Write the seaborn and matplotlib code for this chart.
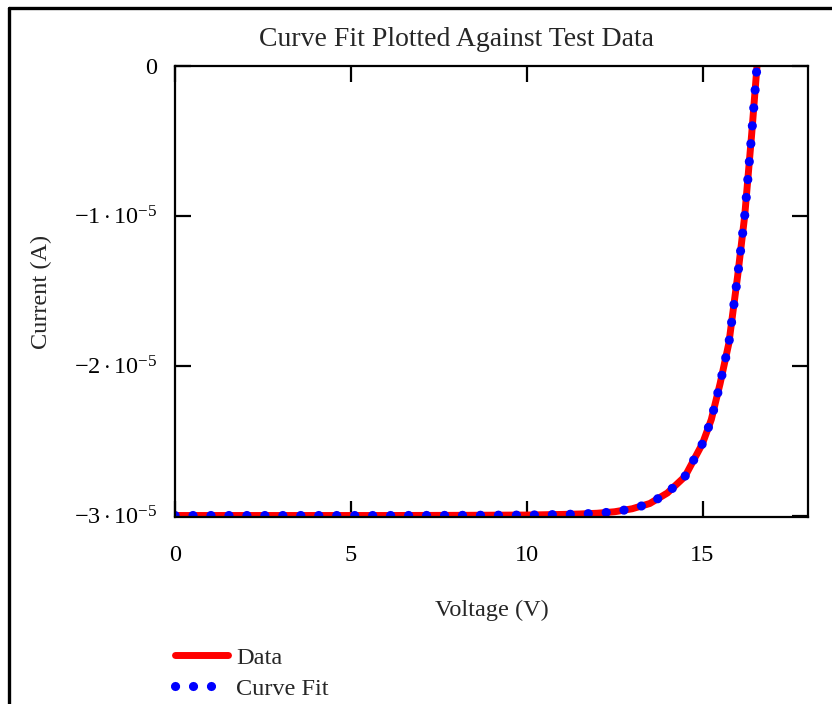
import matplotlib
matplotlib.use("Agg")
import pandas as pd
import seaborn as sns
import matplotlib.pyplot as plt
from matplotlib.lines import Line2D

# =========================================
# 1. DATA
# =========================================
voltage = [0, 2, 4, 6, 8, 10, 11, 11.5, 12, 12.5, 13, 13.5, 14, 14.5,
           15, 15.25, 15.5, 15.75, 16, 16.2, 16.4, 16.55]
# current in units of 1e-5 A
data_current = [-3.0, -3.0, -3.0, -3.0, -2.999, -2.997, -2.993, -2.99, -2.985,
                -2.975, -2.955, -2.92, -2.85, -2.74, -2.52, -2.36, -2.12,
                -1.85, -1.40, -1.00, -0.45, 0.0]
fit_current = [-3.0, -3.0, -3.0, -3.0, -2.999, -2.997, -2.993, -2.99, -2.985,
               -2.975, -2.955, -2.92, -2.85, -2.74, -2.52, -2.36, -2.12,
               -1.85, -1.40, -1.00, -0.45, 0.0]

x_ticks = [0, 5, 10, 15]
y_ticks = [0, -1e-5, -2e-5, -3e-5]
y_tick_labels = ["0", r"$-1\cdot10^{-5}$", r"$-2\cdot10^{-5}$", r"$-3\cdot10^{-5}$"]

df = pd.DataFrame({
    "voltage": voltage,
    "data": [v * 1e-5 for v in data_current],
    "fit": [v * 1e-5 for v in fit_current],
})

# =========================================
# 2. STYLE
# =========================================
sns.set_style("ticks")
plt.rcParams["font.family"] = ["Liberation Serif", "DejaVu Serif"]
plt.rcParams["mathtext.fontset"] = "custom"
plt.rcParams["mathtext.rm"] = "Liberation Serif"
plt.rcParams["mathtext.it"] = "Liberation Serif:italic"

FS = 17.5

fig = plt.figure(figsize=(8.32, 7.04), dpi=100)
ax = fig.add_axes([175 / 832, 1 - 517 / 704, 633 / 832, 451 / 704])

# =========================================
# 3. PLOT
# =========================================
sns.lineplot(data=df, x="voltage", y="data", ax=ax, color="#ff0000",
             linewidth=5.0, estimator=None, sort=False,
             solid_capstyle="round")
sns.lineplot(data=df, x="voltage", y="fit", ax=ax, color="#0000ff",
             linewidth=6.6, estimator=None, sort=False)

data_line, fit_line = ax.lines[0], ax.lines[1]
data_line.set_label("Data")
fit_line.set_label("Curve Fit")
# dotted style: round caps on near-zero dashes give dots
fit_line.set_linestyle((0, (0.01, 1.95)))
fit_line.set_dash_capstyle("round")

ax.set_xlim(0, 18)
ax.set_ylim(-3.01e-5, 0)
ax.set_xticks(x_ticks)
ax.set_yticks(y_ticks)
ax.set_yticklabels(y_tick_labels)

for side in ["left", "right", "top", "bottom"]:
    ax.spines[side].set_visible(True)
    ax.spines[side].set_color("black")
    ax.spines[side].set_linewidth(1.6)

ax.tick_params(direction="in", length=11.5, width=1.6, color="black",
               top=True, right=True, labelsize=FS, labelcolor="black")
ax.tick_params(axis="x", pad=20)
ax.tick_params(axis="y", pad=13)

ax.set_xlabel("Voltage (V)", fontsize=FS)
ax.set_ylabel("Current (A)", fontsize=FS)
ax.xaxis.set_label_coords(0.5, (517 - 600) / 451)
ax.yaxis.set_label_coords((52 - 175) / 633, 0.5)
fig.text(456 / 832, 1 - 39 / 704, "Curve Fit Plotted Against Test Data",
         fontsize=20, ha="center", va="center")

ax.legend(handles=[data_line, fit_line], loc="upper left",
          bbox_to_anchor=(0, -0.288), frameon=False, fontsize=FS,
          borderpad=0, borderaxespad=0, handlelength=2.2,
          handletextpad=0.33, labelspacing=0.36)

# page frame (left and top edges)
fig.add_artist(Line2D([9 / 832, 9 / 832], [0, 1 - 8 / 704], color="black",
                      linewidth=2.4, transform=fig.transFigure))
fig.add_artist(Line2D([9 / 832, 1], [1 - 8 / 704, 1 - 8 / 704], color="black",
                      linewidth=2.4, transform=fig.transFigure))

fig.savefig("out.png", dpi=100)
